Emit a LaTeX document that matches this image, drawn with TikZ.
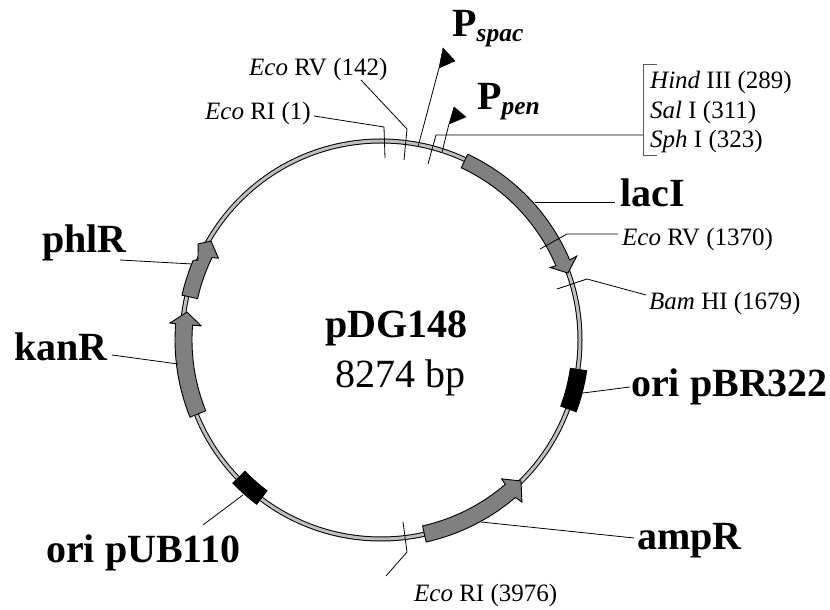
\documentclass[tikz,border=0pt]{standalone}
\usepackage{fontspec}
\setmainfont{Liberation Serif}
\newcommand{\fsz}[1]{\fontsize{#1}{#1}\selectfont}
\tikzset{
  big/.style={font=\fsz{40}\bfseries,inner sep=0pt,anchor=base west},
  small/.style={font=\fsz{25},inner sep=0pt,anchor=base west},
  prom/.style={font=\fsz{40}\bfseries,inner sep=0pt,anchor=base west},
  plain/.style={font=\fsz{40},inner sep=0pt,anchor=base west},
  lead/.style={draw=black,line width=0.8pt},
  gene/.style={draw=black,fill=black!50,line width=0.9pt,line join=miter},
  orib/.style={draw=black,fill=black,line width=0.9pt},
  flag/.style={draw=black,fill=black,line width=0.5pt},
  ringo/.style={draw=black,line width=5pt},
  ringi/.style={draw=black!25,line width=3pt}
}
\begin{document}
\begin{tikzpicture}[x=1pt,y=1pt]
\useasboundingbox (0,0) rectangle (830,610);
\begin{scope}[shift={(381,270)}]
\path[ringo] (0,0) circle[radius=199];
\path[ringi] (0,0) circle[radius=199];
\path[gene] (65:205pt) arc[start angle=65,end angle=23,radius=205pt] -- (23.2:213pt) -- (19.7:198.6pt) -- (23.2:184pt) -- (23:190pt) arc[start angle=23,end angle=65,radius=190pt] -- cycle;
\path[gene] (202:206pt) arc[start angle=202,end angle=175.5,radius=206pt] -- (175.4:211.7pt) -- (171.8:196pt) -- (175.5:180.5pt) -- (175.5:189pt) arc[start angle=175.5,end angle=202,radius=189pt] -- cycle;
\path[gene] (167.3:204pt) arc[start angle=167.3,end angle=157,radius=204pt] -- (156.4:199.7pt) -- (152.3:206.6pt) -- (149.8:196.7pt) -- (153.3:182pt) -- (154:188pt) arc[start angle=154,end angle=167.3,radius=188pt] -- cycle;
\path[gene] (-77.4:207pt) arc[start angle=-77.4,end angle=-49.5,radius=207pt] -- (-49:214.8pt) -- (-45.2:198.7pt) -- (-49:184pt) -- (-49.3:190.5pt) arc[start angle=-49.3,end angle=-77.4,radius=190.5pt] -- cycle;
\path[orib] (-8.5:208pt) arc[start angle=-8.5,end angle=-20.2,radius=208pt] -- (-20.2:191.5pt) arc[start angle=-20.2,end angle=-8.5,radius=191.5pt] -- cycle;
\path[orib] (224:206pt) arc[start angle=224,end angle=232.9,radius=206pt] -- (232.9:189pt) arc[start angle=232.9,end angle=224,radius=189pt] -- cycle;
\end{scope}
\begin{scope}[shift={(0,610)},y=-1pt]
% labels
\node[big] (lacI) at (620,207) {lacI};
\node[big] (phlR) at (42,253) {phlR};
\node[big] (kanR) at (14,361) {kanR};
\node[big] (oripBR) at (631,397) {ori pBR322};
\node[big] (oripUB) at (46,563) {ori pUB110};
\node[big] (ampR) at (637,550) {ampR};
\node[big] (name) at (325,338) {pDG148};
\node[plain] (size) at (335,388) {8274 bp};
\node[prom] (pspac) at (452,37) {P\raisebox{-5pt}{\fsz{25.5}\bfseries\itshape spac}};
\node[prom] (ppen) at (477,110) {P\raisebox{-5pt}{\fsz{25.5}\bfseries\itshape pen}};
\node[small] (ecori1) at (205,120) {\itshape Eco\upshape{} RI (1)};
\node[small] (ecorv142) at (249,76) {\itshape Eco\upshape{} RV (142)};
\node[small] (hind) at (650,89) {\itshape Hind\upshape{} III (289)};
\node[small] (sal) at (650,119) {\itshape Sal\upshape{} I (311)};
\node[small] (sph) at (650,148) {\itshape Sph\upshape{} I (323)};
\node[small] (ecorv1370) at (622,246) {\itshape Eco\upshape{} RV (1370)};
\node[small] (bam) at (649,310) {\itshape Bam\upshape{} HI (1679)};
\node[small] (ecoriB) at (414,602) {\itshape Eco\upshape{} RI (3976)};
% leader anchors
\coordinate (e1a) at (314,116); \coordinate (e1b) at (384,127); \coordinate (e1c) at (385,158);
\coordinate (e2a) at (361,80); \coordinate (e2b) at (407,129); \coordinate (e2c) at (404,160);
\coordinate (s1) at (418,147); \coordinate (s2) at (439,68); \coordinate (s3) at (443,48); \coordinate (s4) at (455,61);
\coordinate (p1) at (442,152); \coordinate (p2) at (449,124); \coordinate (p3) at (454,107); \coordinate (p4) at (466,117);
\coordinate (h1) at (428,164); \coordinate (h2) at (436,135); \coordinate (h3) at (643,135);
\coordinate (bt) at (657,64); \coordinate (bu) at (643,64); \coordinate (bd) at (643,155); \coordinate (bv) at (657,155);
\coordinate (l1) at (535,202); \coordinate (l2) at (615,202);
\coordinate (r1) at (540,249); \coordinate (r2) at (567,234); \coordinate (r3) at (618,234);
\coordinate (b1) at (557,289); \coordinate (b2) at (587,279); \coordinate (b3) at (646,295);
\coordinate (o1) at (583,393); \coordinate (o2) at (630,387);
\coordinate (a1) at (481,522); \coordinate (a2) at (634,538);
\coordinate (c1) at (403,522); \coordinate (c2) at (407,552); \coordinate (c3) at (386,576);
\coordinate (u1) at (243,495); \coordinate (u2) at (203,525);
\coordinate (k1) at (178,364); \coordinate (k2) at (112,355);
\coordinate (f1) at (192,264); \coordinate (f2) at (120,260);
% leaders
\draw[lead] (e1a) -- (e1b) -- (e1c);
\draw[lead] (e2a) -- (e2b) -- (e2c);
\draw[lead] (s1) -- (s2);
\path[flag] (s2) -- (s3) -- (s4) -- cycle;
\draw[lead] (p1) -- (p2);
\path[flag] (p2) -- (p3) -- (p4) -- cycle;
\draw[lead] (h1) -- (h2) -- (h3);
\draw[lead,draw=black!65] (bt) -- (bu) -- (bd) -- (bv);
\draw[lead] (l1) -- (l2);
\draw[lead] (r1) -- (r2) -- (r3);
\draw[lead] (b1) -- (b2) -- (b3);
\draw[lead] (o1) -- (o2);
\draw[lead] (a1) -- (a2);
\draw[lead] (c1) -- (c2) -- (c3);
\draw[lead] (u1) -- (u2);
\draw[lead] (k1) -- (k2);
\draw[lead] (f1) -- (f2);
\end{scope}
\end{tikzpicture}
\end{document}
